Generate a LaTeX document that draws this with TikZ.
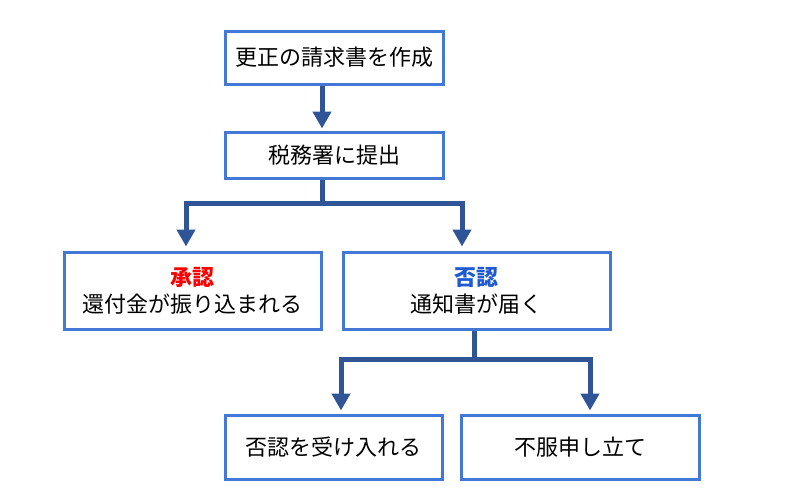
\documentclass[tikz,border=0pt]{standalone}
\usepackage{fontspec}
\setmainfont{Noto Sans CJK JP}
\usetikzlibrary{arrows.meta}
\definecolor{boxblue}{RGB}{68,120,214}
\definecolor{arrblue}{RGB}{47,85,151}
\definecolor{titlered}{RGB}{255,0,0}
\definecolor{titleblue}{RGB}{30,90,210}
\tikzset{
  stepbox/.style={draw=boxblue, line width=3pt, fill=white, rectangle, inner sep=0pt, align=center, font=\fontsize{22}{27}\selectfont},
  conn/.style={draw=arrblue, line width=5pt, line join=miter},
  arr/.style={conn, -{Triangle[width=18pt,length=17pt]}},
}
\begin{document}
\begin{tikzpicture}[x=1pt,y=-1pt]
\useasboundingbox (0,0) rectangle (785,499);
\node[stepbox, minimum width=218pt, minimum height=53pt] (make) at (334,57.5) {更正の請求書を作成};
\node[stepbox, minimum width=218pt, minimum height=46pt] (submit) at (334,155) {税務署に提出};
\node[stepbox, minimum width=257pt, minimum height=77pt] (ok) at (192.5,290.5) {{\color{titlered}\bfseries 承認}\\還付金が振り込まれる};
\node[stepbox, minimum width=267pt, minimum height=77pt] (ng) at (476.5,290.5) {{\color{titleblue}\bfseries 否認}\\通知書が届く};
\node[stepbox, minimum width=217pt, minimum height=64pt] (accept) at (333.5,447) {否認を受け入れる};
\node[stepbox, minimum width=238pt, minimum height=64pt] (appeal) at (580,447) {不服申し立て};
\coordinate (s1) at (322,0);
\coordinate (j1) at (322,203);
\coordinate (l1) at (186,0);
\coordinate (r1) at (462,0);
\coordinate (j2) at (474,359);
\coordinate (l2) at (341,0);
\coordinate (r2) at (590,0);
\draw[arr, shorten >=2pt] (make.south -| s1) -- (submit.north -| s1);
\draw[conn] (submit.south -| s1) -- (j1);
\draw[arr, shorten >=4pt] (j1) -| (ok.north -| l1);
\draw[arr, shorten >=4pt] (j1) -| (ng.north -| r1);
\draw[conn] (ng.south -| j2) -- (j2);
\draw[arr, shorten >=3pt] (j2) -| (accept.north -| l2);
\draw[arr, shorten >=3pt] (j2) -| (appeal.north -| r2);
\end{tikzpicture}
\end{document}
